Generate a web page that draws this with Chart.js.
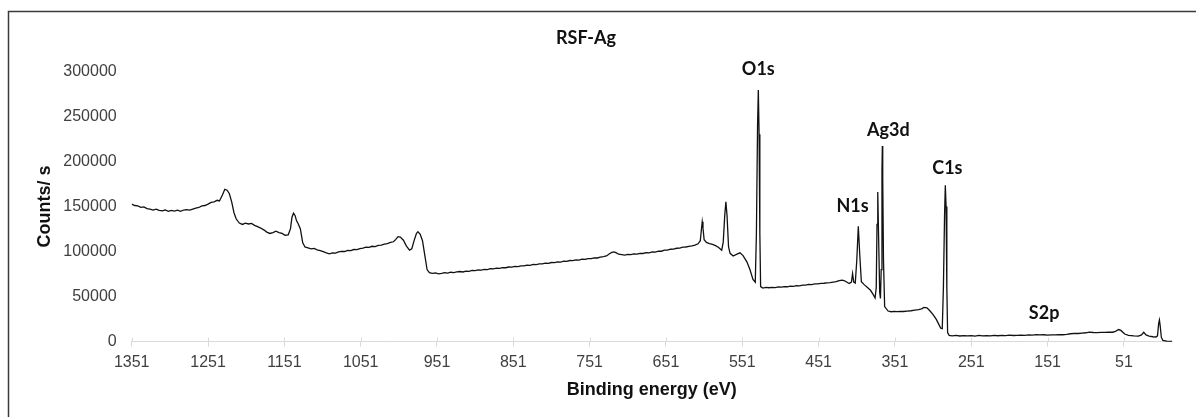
<!DOCTYPE html>
<html lang="en">
<head>
    <meta charset="UTF-8">
    <title>RSF-Ag XPS survey</title>
    <script src="https://cdn.jsdelivr.net/npm/chart.js"></script>
    <style>
        body {
            margin: 0;
            background-color: #ffffff;
        }
        #wrap {
            width: 1196px;
            height: 417px;
        }
    </style>
</head>
<body>

<div id="wrap">
    <canvas id="xpsChart"></canvas>
</div>

<script>
    const bindingEnergy = [
        1351, 1347, 1343, 1339, 1335, 1331, 1327, 1323, 1319, 1315,
        1311, 1307, 1303, 1299, 1295, 1291, 1287, 1283, 1279, 1275,
        1271, 1267, 1263, 1259, 1255, 1251, 1247, 1243, 1239, 1236,
        1232, 1229, 1226, 1223, 1220, 1217, 1214, 1210, 1206, 1202,
        1198, 1194, 1190, 1186, 1182, 1178, 1174, 1170, 1166, 1162,
        1158, 1154, 1150, 1146, 1143, 1141, 1139, 1137, 1135, 1133,
        1130, 1127, 1124, 1120, 1116, 1112, 1108, 1104, 1100, 1096,
        1092, 1088, 1084, 1080, 1076, 1072, 1068, 1064, 1060, 1056,
        1052, 1048, 1044, 1040, 1036, 1032, 1028, 1024, 1020, 1016,
        1012, 1008, 1005, 1002, 999, 995, 991, 987, 984, 981,
        978, 976, 973, 970, 967, 964, 961, 957, 953, 949,
        945, 941, 937, 933, 929, 925, 921, 917, 913, 909,
        905, 901, 897, 893, 889, 885, 881, 877, 873, 869,
        865, 861, 857, 853, 849, 845, 841, 837, 833, 829,
        825, 821, 817, 813, 809, 805, 801, 797, 793, 789,
        785, 781, 777, 773, 769, 765, 761, 757, 753, 749,
        745, 741, 737, 733, 729, 725, 722, 719, 716, 713,
        709, 705, 701, 697, 693, 689, 685, 681, 677, 673,
        669, 665, 661, 657, 653, 649, 645, 641, 637, 633,
        629, 625, 621, 617, 613, 609, 606, 604.5, 603.5, 602.5,
        601, 598, 594, 590, 586, 582, 578, 576, 574, 572.5,
        571, 569, 567, 563, 558, 554, 550, 545, 541, 537,
        534, 532.5, 531, 530, 529, 528, 527, 524, 520, 516,
        512, 508, 504, 500, 496, 492, 488, 484, 480, 476,
        472, 468, 464, 460, 456, 452, 448, 444, 440, 436,
        432, 428, 424, 420, 417, 411, 408, 406.5, 405, 403,
        401, 399, 397, 395, 391, 387, 383, 380, 377, 375.5,
        374.5, 373.5, 372.5, 371, 370, 369, 368, 367.5, 367, 366,
        364.5, 360, 356, 352, 348, 344, 340, 335, 330, 325,
        320, 316, 313, 309, 305, 301, 297, 294, 291, 289,
        287.5, 286, 285, 284, 283, 282, 280, 276, 271, 266,
        261, 256, 251, 246, 241, 236, 231, 226, 221, 216,
        211, 206, 201, 196, 191, 186, 181, 176, 171, 166,
        161, 156, 151, 146, 141, 136, 131, 126, 121, 116,
        111, 106, 101, 96, 91, 86, 81, 76, 71, 66,
        62, 58, 55, 50, 45, 38, 32, 28, 25, 22,
        18, 13, 9, 7, 5.5, 4.5, 3.5, 2, 0, -5,
        -12
    ];

    // Counts/ s at each binding energy above (same rows)
    const counts = [
        152500, 151000, 150500, 149000, 149500, 147500, 147000, 146000, 147000, 145500,
        145000, 146000, 144500, 145500, 144800, 145800, 144500, 146000, 146500, 145800,
        147000, 148200, 148800, 150500, 151000, 152500, 154500, 155000, 156800, 156000,
        163000, 169000, 168000, 164000, 155000, 143000, 136000, 131500, 130000, 131500,
        130500, 131200, 129000, 127500, 126000, 124000, 121500, 120000, 121000, 122500,
        121000, 120000, 118000, 118500, 125000, 138000, 142500, 140000, 134000, 131000,
        125000, 110000, 105000, 104000, 103000, 103500, 101800, 101000, 99800, 98500,
        97500, 98500, 98200, 99500, 100200, 100000, 101200, 101000, 102200, 102000,
        103200, 103800, 104800, 104500, 105800, 105500, 106800, 107000, 108200, 108800,
        110000, 110800, 113500, 116500, 116000, 112500, 106000, 101500, 103000, 112000,
        120000, 122000, 119000, 112000, 96000, 80000, 76500, 75800, 76200, 75200,
        75800, 76500, 76000, 77000, 76600, 77400, 77800, 77300, 78300, 78000,
        79000, 78800, 79600, 79300, 80200, 80000, 81000, 80700, 81500, 81300,
        82200, 82000, 82800, 82600, 83400, 83300, 84100, 84000, 84900, 84700,
        85600, 85400, 86300, 86200, 87000, 86800, 87800, 87600, 88500, 88300,
        89200, 89000, 90000, 89800, 90700, 90500, 91500, 91300, 92200, 92000,
        93000, 92800, 93800, 94300, 95000, 97500, 99000, 99500, 98500, 97000,
        96500, 96000, 96800, 96500, 97300, 97200, 98000, 97800, 98700, 98500,
        99500, 99400, 100500, 100300, 101500, 101600, 102500, 102600, 103600, 103800,
        104800, 105000, 105800, 106300, 107000, 108500, 112000, 125000, 133000, 126000,
        113000, 110000, 108800, 107800, 106500, 104500, 101500, 110000, 140000, 155000,
        140000, 105000, 98000, 95000, 97000, 98500, 95500, 88500, 80000, 69000,
        66000, 120000, 240000, 279000, 230000, 120000, 61000, 59500, 60200, 59800,
        60300, 60000, 60700, 60500, 61100, 60900, 61600, 61400, 62200, 62000,
        62800, 62700, 63500, 63300, 64100, 64000, 64600, 64800, 65300, 65500,
        66000, 66500, 67800, 68200, 67500, 64500, 66000, 75500, 66000, 65000,
        90000, 128000, 95000, 66500, 63000, 60000, 57000, 53000, 48500, 60000,
        130000, 166000, 120000, 55000, 48000, 80000, 190000, 217000, 180000, 90000,
        39000, 34000, 33200, 33600, 33300, 33700, 33500, 34000, 34300, 35000,
        35500, 36500, 38000, 37500, 34000, 30000, 25000, 20000, 15000, 14500,
        60000, 140000, 173500, 150000, 60000, 10000, 7000, 6500, 6900, 6300,
        6700, 6400, 6800, 6200, 6900, 6400, 6800, 6500, 7000, 6600,
        7100, 6800, 7200, 6900, 7100, 7300, 7000, 7500, 7200, 7800,
        7500, 7700, 7400, 7600, 7500, 7900, 7700, 8200, 8800, 9200,
        9100, 9600, 9900, 10600, 10200, 10000, 10400, 10300, 10700, 10500,
        11500, 13500, 12500, 8500, 7000, 6500, 6200, 7500, 10500, 7500,
        6200, 5500, 5200, 6500, 20000, 24000, 18000, 5000, 1500, 500,
        300
    ];

    const xTickValues = [1351, 1251, 1151, 1051, 951, 851, 751, 651, 551, 451, 351, 251, 151, 51];
    const yTickValues = [0, 50000, 100000, 150000, 200000, 250000, 300000];

    // Peak names and where they sit (eV, counts)
    const peakNames = ['O1s', 'N1s', 'Ag3d', 'C1s', 'S2p'];
    const peakLabelEnergy = [530, 406.6, 359.6, 282.3, 155.6];
    const peakLabelCounts = [302300, 149700, 234700, 192200, 31500];

    const spectrum = bindingEnergy.map((e, i) => ({ x: e, y: counts[i] }));

    // white page + frame
    const framePlugin = {
        id: 'frame',
        beforeDraw(chart) {
            const ctx = chart.ctx;
            ctx.save();
            ctx.fillStyle = '#ffffff';
            ctx.fillRect(0, 0, chart.width, chart.height);
            ctx.strokeStyle = '#3a3a3a';
            ctx.lineWidth = 1.5;
            ctx.beginPath();
            ctx.moveTo(8.5, chart.height);
            ctx.lineTo(8.5, 11.5);
            ctx.lineTo(chart.width, 11.5);
            ctx.stroke();
            ctx.restore();
        }
    };

    // peak labels + tick marks poking above the axis line
    const peakPlugin = {
        id: 'peaks',
        afterDraw(chart) {
            const ctx = chart.ctx;
            const xs = chart.scales.x;
            const ys = chart.scales.y;
            ctx.save();
            ctx.strokeStyle = '#d9d9d9';
            ctx.lineWidth = 1;
            xTickValues.forEach(v => {
                const px = Math.round(xs.getPixelForValue(v)) + 0.5;
                ctx.beginPath();
                ctx.moveTo(px, ys.getPixelForValue(0) - 4);
                ctx.lineTo(px, ys.getPixelForValue(0));
                ctx.stroke();
            });
            ctx.fillStyle = '#111111';
            ctx.font = 'bold 18px Lato';
            ctx.textAlign = 'center';
            ctx.textBaseline = 'middle';
            peakNames.forEach((name, i) => {
                ctx.fillText(name, xs.getPixelForValue(peakLabelEnergy[i]), ys.getPixelForValue(peakLabelCounts[i]));
            });
            ctx.restore();
        }
    };

    const ctx = document.getElementById('xpsChart').getContext('2d');
    const xpsChart = new Chart(ctx, {
        type: 'line',
        data: {
            datasets: [{
                label: 'RSF-Ag',
                data: spectrum,
                borderColor: '#111111',
                borderWidth: 1.3,
                pointRadius: 0,
                tension: 0,
                fill: false
            }]
        },
        options: {
            responsive: true,
            maintainAspectRatio: false,
            animation: false,
            layout: {
                padding: { left: 0, right: 24, top: 0, bottom: 0 }
            },
            plugins: {
                legend: { display: false },
                tooltip: { enabled: false },
                title: {
                    display: true,
                    text: 'RSF-Ag',
                    color: '#111111',
                    font: { family: 'Lato', size: 18, weight: 'bold' },
                    padding: { top: 27, bottom: 22.5 }
                }
            },
            scales: {
                x: {
                    type: 'linear',
                    reverse: true,
                    min: -12,
                    max: 1351,
                    afterBuildTicks: (scale) => {
                        scale.ticks = xTickValues.map(v => ({ value: v }));
                    },
                    afterFit: (scale) => {
                        scale.height = 75.3;
                    },
                    grid: {
                        drawOnChartArea: false,
                        drawTicks: true,
                        tickLength: 5,
                        color: '#d9d9d9'
                    },
                    border: { display: true, color: '#d9d9d9', width: 1 },
                    ticks: {
                        autoSkip: false,
                        maxRotation: 0,
                        padding: 6,
                        color: '#404040',
                        font: { family: 'Liberation Sans', size: 16 },
                        callback: (v) => String(v)
                    },
                    title: {
                        display: true,
                        text: 'Binding energy (eV)',
                        color: '#111111',
                        font: { family: 'Liberation Sans', size: 18, weight: 'bold' },
                        padding: { top: 0, bottom: 16 }
                    }
                },
                y: {
                    min: 0,
                    max: 300000,
                    afterBuildTicks: (scale) => {
                        scale.ticks = yTickValues.map(v => ({ value: v }));
                    },
                    afterFit: (scale) => {
                        scale.width = 131.7;
                    },
                    grid: { display: false, drawTicks: false },
                    border: { display: false },
                    ticks: {
                        padding: 15,
                        color: '#404040',
                        font: { family: 'Liberation Sans', size: 16 },
                        callback: (v) => String(v)
                    },
                    title: {
                        display: true,
                        text: 'Counts/ s',
                        color: '#111111',
                        font: { family: 'Liberation Sans', size: 18, weight: 'bold' },
                        padding: { top: 34, bottom: 0 }
                    }
                }
            }
        },
        plugins: [framePlugin, peakPlugin]
    });
</script>

</body>
</html>
